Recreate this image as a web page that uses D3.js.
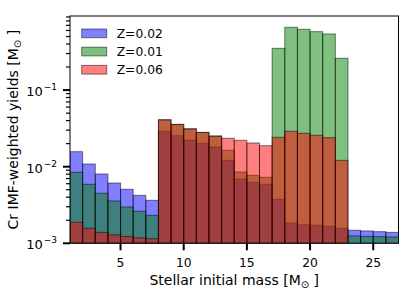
<!DOCTYPE html>
<html><head><meta charset="utf-8">
<script src="https://cdn.jsdelivr.net/npm/d3@7"></script>
<style>body{margin:0;background:#fff}svg{display:block}text{font-family:"DejaVu Sans",sans-serif}</style>
</head><body>
<svg id="c" width="415" height="295"></svg>
<script>
// bin left edges (stellar initial mass, Msun), width 1
const binLeft = d3.range(1, 27);
const seriesNames = ["Z=0.02", "Z=0.01", "Z=0.06"];
const seriesColors = ["#0000ff", "#008000", "#ff0000"];
const yieldsZ002 = [0.0157,0.01084,0.00803,0.00612,0.00507,0.00423,0.00364,0.0290,0.0254,0.0223,0.0202,0.0181,0.01212,0.0069,0.00626,0.00589,0.00375,0.00184,0.00175,0.00172,0.00167,0.00157,0.00148,0.00145,0.00142,0.00139];
const yieldsZ001 = [0.00845,0.00589,0.0045,0.00357,0.00298,0.00262,0.00232,0.0411,0.0358,0.0313,0.0281,0.0252,0.01637,0.00853,0.00772,0.00727,0.351,0.660,0.622,0.579,0.540,0.260,0.00125,0.00123,0.00122,0.00121];
const yieldsZ006 = [0.00188,0.00157,0.00139,0.00129,0.00123,0.00118,0.00115,0.0407,0.0355,0.0310,0.0279,0.0250,0.0235,0.0221,0.0204,0.0188,0.0242,0.029,0.0273,0.0257,0.0239,0.0121,0,0,0,0];
const xTicks = [5, 10, 15, 20, 25];
const yMajor = [1e-3, 1e-2, 1e-1];
const yExp = ["−3", "−2", "−1"];

const series = [yieldsZ002, yieldsZ001, yieldsZ006];
const L = 70, R = 398.5, T = 16, B = 243.3;
const x = d3.scaleLinear().domain([1, 27]).range([L, R]);
const y = d3.scaleLog().domain([1e-3, 0.927]).range([B, T]);
const svg = d3.select("#c");

svg.append("clipPath").attr("id", "clip").append("rect")
  .attr("x", L).attr("y", T).attr("width", R - L).attr("height", B - T);

const plot = svg.append("g").attr("clip-path", "url(#clip)");
series.forEach((vals, si) => {
  plot.append("g").selectAll("rect")
    .data(vals.map((v, i) => ({v, x0: binLeft[i]})).filter(d => d.v > 0))
    .join("rect")
    .attr("x", d => x(d.x0))
    .attr("width", d => x(d.x0 + 1) - x(d.x0))
    .attr("y", d => y(Math.max(d.v, 1e-3)))
    .attr("height", d => B - y(Math.max(d.v, 1e-3)))
    .attr("fill", seriesColors[si]).attr("fill-opacity", 0.5)
    .attr("stroke", "#000").attr("stroke-opacity", 0.5).attr("stroke-width", 1);
});

// frame
svg.append("rect").attr("x", L).attr("y", T).attr("width", R - L).attr("height", B - T)
  .attr("fill", "none").attr("stroke", "#000").attr("stroke-width", 1);

// x ticks
const gx = svg.append("g");
xTicks.forEach(t => {
  gx.append("line").attr("x1", x(t)).attr("x2", x(t)).attr("y1", B).attr("y2", B + 7)
    .attr("stroke", "#000").attr("stroke-width", 2);
  gx.append("text").attr("x", x(t)).attr("y", 266.7).attr("text-anchor", "middle")
    .attr("font-size", 12.3).text(t);
});

// y ticks
const gy = svg.append("g");
yMajor.forEach((t, i) => {
  gy.append("line").attr("x1", L - 7).attr("x2", L).attr("y1", y(t)).attr("y2", y(t))
    .attr("stroke", "#000").attr("stroke-width", 2);
  const tx = gy.append("text").attr("x", 57).attr("y", y(t) + 6).attr("text-anchor", "end")
    .attr("font-size", 13);
  tx.append("tspan").text("10");
  tx.append("tspan").attr("font-size", 9).attr("dx", 1).attr("dy", -6).text(yExp[i]);
});
const minor = [];
[1e-3, 1e-2, 1e-1].forEach(d => { for (let k = 2; k <= 9; k++) { const v = d * k; if (v <= 0.927) minor.push(v); } });
gy.selectAll(".mn").data(minor).join("line")
  .attr("x1", L - 4).attr("x2", L).attr("y1", d => y(d)).attr("y2", d => y(d))
  .attr("stroke", "#000").attr("stroke-width", 1.2);

// axis labels
const xl = svg.append("text").attr("x", (L + R) / 2).attr("y", 284.5).attr("text-anchor", "middle").attr("font-size", 14);
xl.append("tspan").text("Stellar initial mass [M");
xl.append("tspan").attr("font-size", 10).attr("dy", 3).text("⊙");
xl.append("tspan").attr("dy", -3).text(" ]");

const yl = svg.append("text").attr("transform", `translate(17.5,${(T + B) / 2}) rotate(-90)`)
  .attr("text-anchor", "middle").attr("font-size", 14);
yl.append("tspan").text("Cr IMF-weighted yields [M");
yl.append("tspan").attr("font-size", 10).attr("dy", 3).text("⊙");
yl.append("tspan").attr("dy", -3).text(" ]");

// legend
const lg = svg.append("g");
seriesNames.forEach((n, i) => {
  const yy = 29 + i * 18.2;
  lg.append("rect").attr("x", 81.7).attr("y", yy).attr("width", 25).attr("height", 8.7)
    .attr("fill", seriesColors[i]).attr("fill-opacity", 0.5)
    .attr("stroke", "#000").attr("stroke-opacity", 0.5).attr("stroke-width", 1);
  lg.append("text").attr("x", 116.7).attr("y", yy + 8.9).attr("font-size", 12.3).text(n);
});
</script>
</body></html>
